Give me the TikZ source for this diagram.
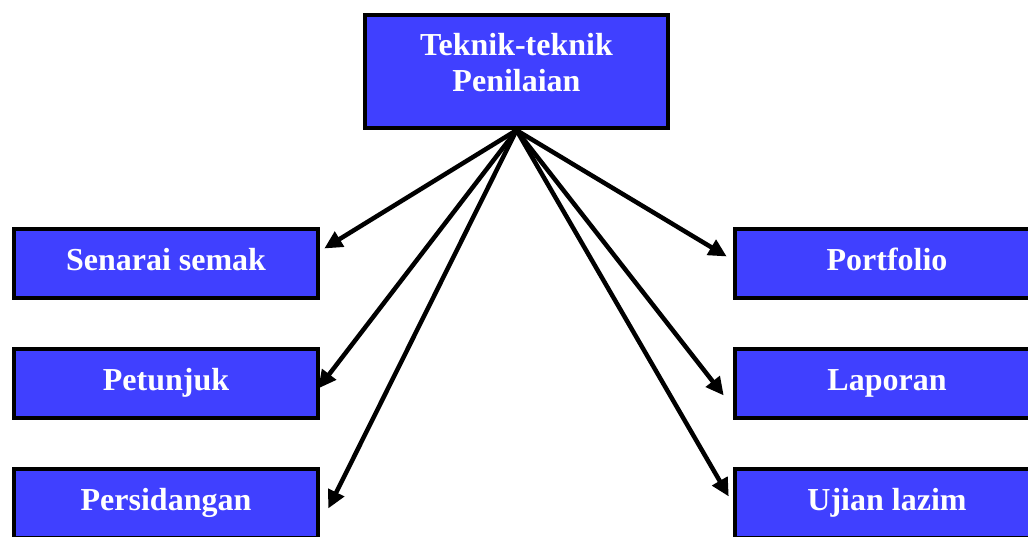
\documentclass[tikz,border=0pt]{standalone}
\usepackage{fontspec}
\setmainfont{Liberation Serif}
\usetikzlibrary{arrows.meta}
\definecolor{boxblue}{RGB}{64,64,255}
\tikzset{
  techbox/.style={draw=black, line width=4.5pt, fill=boxblue, text=white,
    font=\bfseries\fontsize{32}{36}\selectfont, minimum width=304pt,
    minimum height=69pt, inner sep=0pt, text height=20pt, text depth=7pt},
  link/.style={line width=4.5pt, -{Triangle[length=18pt,width=17pt]}}
}
\begin{document}
\begin{tikzpicture}[x=1pt,y=-1pt]
  \useasboundingbox (0,0) rectangle (1028,536);
  % main box
  \node[techbox, minimum width=303pt, minimum height=113pt, align=center,
        text height=, text depth=18pt] (teknik) at (516.5,71.5) {Teknik-teknik\\Penilaian};
  % left column
  \node[techbox] (senarai) at (166,263.5) {Senarai semak};
  \node[techbox] (petunjuk) at (166,383.5) {Petunjuk};
  \node[techbox] (sidang) at (166,503.5) {Persidangan};
  % right column
  \node[techbox] (portfolio) at (887,263.5) {Portfolio};
  \node[techbox] (laporan) at (887,383.5) {Laporan};
  \node[techbox] (ujian) at (887,503.5) {Ujian lazim};
  % arrows
  \draw[link] (teknik.south) -- ([shift={(4,-15)}]senarai.east);
  \draw[link] (teknik.south) -- ([shift={(-2,5)}]petunjuk.east);
  \draw[link] (teknik.south) -- ([shift={(8,5)}]sidang.east);
  \draw[link] (teknik.south) -- ([shift={(-6,-7)}]portfolio.west);
  \draw[link] (teknik.south) -- ([shift={(-9,12)}]laporan.west);
  \draw[link] (teknik.south) -- ([shift={(-4,-7)}]ujian.west);
\end{tikzpicture}
\end{document}
